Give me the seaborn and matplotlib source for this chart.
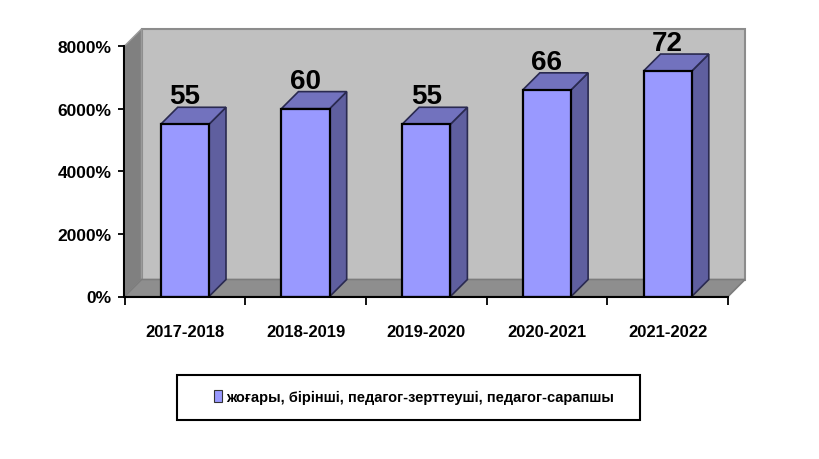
import matplotlib
matplotlib.use('Agg')
import matplotlib.pyplot as plt
import pandas as pd
import seaborn as sns
from matplotlib.patches import Polygon, Rectangle

years = ['2017-2018', '2018-2019', '2019-2020', '2020-2021', '2021-2022']
values = [5500, 6000, 5500, 6600, 7200]
bar_labels = ['55', '60', '55', '66', '72']
y_ticks = [0, 2000, 4000, 6000, 8000]
y_tick_labels = ['0%', '2000%', '4000%', '6000%', '8000%']
series_name = 'жоғары, бірінші, педагог-зерттеуші, педагог-сарапшы'

sns.set_theme(style='white')
plt.rcParams['font.family'] = ['Liberation Sans', 'DejaVu Sans']

W, H = 819, 460
fig = plt.figure(figsize=(W / 100, H / 100), dpi=100, facecolor='white')
ax = fig.add_axes([124.5 / W, 1 - 297.5 / H, 603.5 / W, 250.5 / H])
ax.set_facecolor('none')

df = pd.DataFrame({'year': years, 'value': values})
sns.barplot(data=df, x='year', y='value', color='#9999FF', width=0.4, saturation=1,
            edgecolor='black', linewidth=1.6, label=series_name, ax=ax, zorder=3)

ax.set_xlim(-0.5, 4.5)
ax.set_ylim(0, 8000)

# depth of the fake 3d box, in data units
dx = 17 / 120.7
dy = 17 * 8000 / 250.5


def face(pts, color, edge='none', lw=0, z=1):
    ax.add_patch(Polygon(pts, closed=True, facecolor=color, edgecolor=edge, linewidth=lw,
                         zorder=z, clip_on=False))


x0, x1 = -0.5, 4.5
top = 8000
# back wall, side wall, floor
face([(x0 + dx, dy), (x1 + dx, dy), (x1 + dx, top + dy), (x0 + dx, top + dy)], '#C0C0C0', '#8C8C8C', 1.5)
face([(x0, 0), (x0 + dx, dy), (x0 + dx, top + dy), (x0, top)], '#808080', '#9A9A9A', 1)
face([(x0, 0), (x1, 0), (x1 + dx, dy), (x0 + dx, dy)], '#8E8E8E', '#7C7C7C', 1.2)

for patch, lab in zip(ax.patches[:len(values)], bar_labels):
    left = patch.get_x()
    right = left + patch.get_width()
    h = patch.get_height()
    face([(right, 0), (right + dx, dy), (right + dx, h + dy), (right, h)], '#5F5F9F', '#2A2A50', 1.2, z=2)
    face([(left, h), (right, h), (right + dx, h + dy), (left + dx, h + dy)], '#7272BE', '#2A2A50', 1.2, z=2)
    ax.text(left + patch.get_width() / 2, h + dy - 60, lab, ha='center', va='bottom', fontsize=20,
            fontweight='bold', color='black', zorder=5)

sns.despine(ax=ax)
for side in ['left', 'bottom']:
    ax.spines[side].set_color('black')
    ax.spines[side].set_linewidth(1.5)
    ax.spines[side].set_zorder(4)

ax.set_xlabel('')
ax.set_ylabel('')
ax.set_yticks(y_ticks)
ax.set_yticklabels(y_tick_labels, fontsize=12.5, fontweight='bold', color='black')
ax.set_xticks([i - 0.5 for i in range(len(years) + 1)])
ax.set_xticklabels([])
ax.set_xticks(range(len(years)), minor=True)
ax.set_xticklabels(years, minor=True, fontsize=12, fontweight='bold', color='black')
ax.tick_params(axis='x', which='major', direction='out', length=6, width=1.3, color='black', bottom=True)
ax.tick_params(axis='x', which='minor', length=0, pad=20)
ax.tick_params(axis='y', direction='out', length=4, width=1.3, color='black', left=True, pad=5.5)

# legend frame sits behind the axes, the legend itself has no frame
fig.add_artist(Rectangle((177 / W, 1 - 421 / H), 463 / W, 45 / H, transform=fig.transFigure,
                         facecolor='white', edgecolor='black', linewidth=1.5, zorder=-1))
leg = ax.legend(loc='center left', bbox_to_anchor=(213.5 / W, 1 - 398 / H), bbox_transform=fig.transFigure,
                frameon=False, handlelength=0.55, handleheight=0.9, handletextpad=0.3, borderpad=0,
                borderaxespad=0, prop={'size': 10.5, 'weight': 'bold'}, labelcolor='black')
for handle in leg.legend_handles:
    handle.set_linewidth(0.8)
    handle.set_edgecolor('#333333')
leg.set_zorder(6)

fig.savefig('out.png', dpi=100)
